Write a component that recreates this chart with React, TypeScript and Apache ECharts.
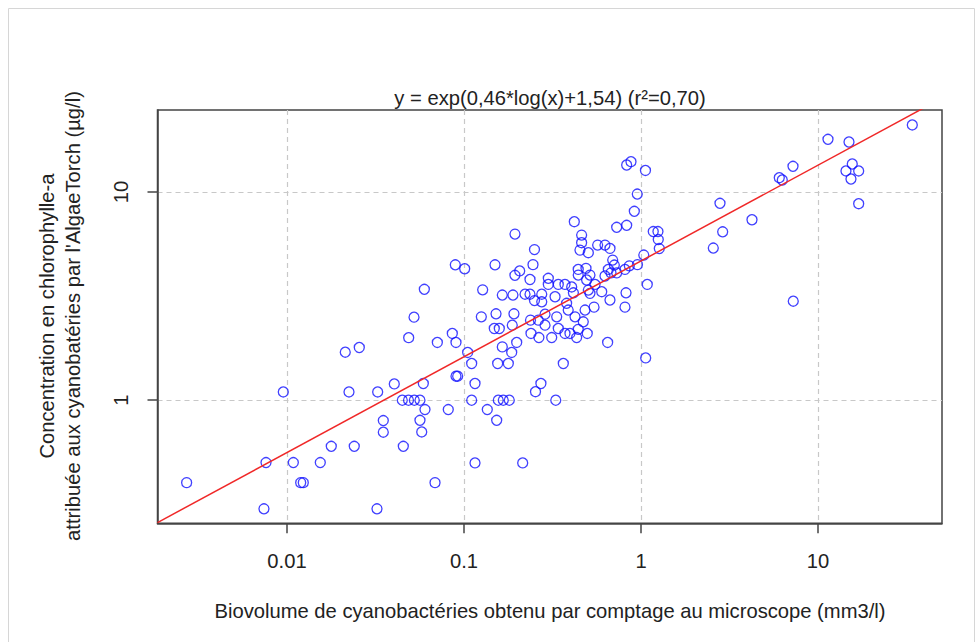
import React, { useEffect, useRef } from "react";
import * as echarts from "echarts";

// Biovolume (mm3/l)
const biovolume: number[] = [
  0.00271, 0.00741, 0.00761, 0.00953, 0.01086, 0.01195, 0.01236, 0.01542, 0.01779, 0.02134,
  0.0224, 0.02399, 0.02561, 0.03224, 0.03253, 0.035, 0.035, 0.04038, 0.04481, 0.04858,
  0.04541, 0.0487, 0.0522, 0.0524, 0.0564, 0.0597, 0.0893, 0.1009, 0.1497, 0.1941,
  0.2064, 0.194, 0.1275, 0.1646, 0.1891, 0.2212, 0.236, 0.1253, 0.1517, 0.1916,
  0.0859, 0.0901, 0.0707, 0.1483, 0.1583, 0.1874, 0.2375, 0.1646, 0.1985, 0.186,
  0.1049, 0.1105, 0.155, 0.178, 0.0901, 0.0921, 0.0589, 0.1154, 0.2535, 0.1105,
  0.1562, 0.1667, 0.1803, 0.0602, 0.0815, 0.1354, 0.0564, 0.153, 0.0577, 0.1154,
  0.2146, 0.0686, 0.2391, 0.236, 0.2454, 0.2502, 0.2502, 0.83, 0.878, 1.06,
  0.953, 0.917, 0.42, 0.729, 0.83, 1.173, 1.247, 1.252, 1.269, 0.462,
  0.462, 0.452, 0.569, 0.626, 0.668, 0.504, 0.692, 0.707, 1.037, 0.955,
  0.859, 0.442, 0.489, 0.442, 0.515, 0.654, 0.677, 0.626, 0.729, 0.812,
  0.2995, 0.2995, 0.493, 0.55, 0.341, 0.372, 0.406, 1.085, 0.275, 0.275,
  0.327, 0.415, 0.504, 0.6, 0.515, 0.823, 0.668, 0.812, 0.543, 0.38,
  0.388, 0.483, 0.287, 0.334, 0.424, 0.263, 0.287, 0.472, 0.442, 0.341,
  0.265, 0.313, 0.372, 0.397, 0.433, 0.497, 0.648, 1.063, 0.364, 0.272,
  0.33, 2.795, 2.894, 2.562, 4.238, 6.045, 6.285, 7.225, 7.25, 11.39,
  14.97, 15.62, 14.39, 16.98, 15.36, 16.98, 34.11,
];

// Chlorophyll-a (µg/l)
const chlorophyll: number[] = [
  0.402, 0.301, 0.502, 1.096, 0.502, 0.402, 0.402, 0.502, 0.601, 1.701,
  1.096, 0.601, 1.792, 0.301, 1.096, 0.799, 0.702, 1.198, 1.0, 1.0,
  0.601, 1.998, 2.506, 1.0, 1.0, 3.41, 4.47, 4.28, 4.47, 6.28,
  4.18, 3.98, 3.39, 3.2, 3.2, 3.23, 3.23, 2.515, 2.6, 2.6,
  2.093, 1.894, 1.894, 2.211, 2.211, 2.294, 2.425, 1.804, 1.894, 1.696,
  1.696, 1.501, 1.501, 1.501, 1.304, 1.304, 1.203, 1.203, 1.099, 1.0,
  1.0, 1.0, 1.0, 0.902, 0.902, 0.902, 0.801, 0.801, 0.704, 0.5,
  0.5, 0.402, 2.093, 3.8, 4.48, 5.29, 3.01, 13.48, 13.99, 12.69,
  9.78, 8.08, 7.2, 6.77, 6.92, 6.46, 6.46, 5.91, 5.35, 6.21,
  5.71, 5.26, 5.56, 5.56, 5.36, 5.11, 4.71, 4.46, 4.98, 4.48,
  4.42, 4.25, 4.3, 3.99, 3.99, 4.25, 4.09, 3.95, 4.09, 4.25,
  3.85, 3.6, 3.78, 3.6, 3.6, 3.6, 3.5, 3.6, 3.23, 2.97,
  3.14, 3.28, 3.38, 3.32, 3.26, 3.28, 3.03, 2.8, 2.8, 2.92,
  2.71, 2.71, 2.59, 2.515, 2.515, 2.425, 2.294, 2.38, 2.19, 2.211,
  2.0, 2.0, 2.093, 2.093, 2.0, 2.093, 1.894, 1.597, 1.501, 1.203,
  1.0, 8.83, 6.44, 5.38, 7.36, 11.72, 11.42, 13.29, 2.99, 17.92,
  17.39, 13.63, 12.62, 12.62, 11.55, 8.79, 21.0,
];

const xTickValues: number[] = [0.01, 0.1, 1, 10];
const yTickValues: number[] = [1, 10];
const xExtent: number[] = [0.001855, 50.2];
const yExtent: number[] = [0.2564, 24.77];

// regression: y = exp(0.46*log(x) + 1.54)
const fitSlope = 0.46;
const fitIntercept = 1.54;

const titleText = "y = exp(0,46*log(x)+1,54) (r²=0,70)";
const xTitle = "Biovolume de cyanobactéries obtenu par comptage au microscope (mm3/l)";
const yTitle1 = "Concentration en chlorophylle-a";
const yTitle2 = "attribuée aux cyanobatéries par l'AlgaeTorch (µg/l)";

const FONT = '"Liberation Sans", Arial, Helvetica, sans-serif';
const FS = 20.2;

const fmt = (v: number) => String(Number(Number(v).toPrecision(4)));

export default function App() {
  const ref = useRef<HTMLDivElement>(null);
  useEffect(() => {
    if (!ref.current) return;
    const chart = echarts.init(ref.current, null, { renderer: "svg" });
    const points = biovolume.map((x, i) => [x, chlorophyll[i]]);
    const fitLine = xExtent.map((x) => [x, Math.exp(fitSlope * Math.log(x) + fitIntercept)]);
    const axisColor = "#444";
    const gridLine = { show: true, lineStyle: { color: "#c8c8c8", width: 1.2, type: [5, 4] as any } };
    chart.setOption({
      animation: false,
      backgroundColor: "#ffffff",
      grid: {
        left: 157.5,
        right: 37,
        top: 110,
        bottom: 118.7,
        show: true,
        borderColor: axisColor,
        borderWidth: 1.5,
        backgroundColor: "transparent",
        containLabel: false,
      },
      xAxis: {
        type: "log",
        logBase: 10,
        min: xExtent[0],
        max: xExtent[1],
        axisLine: { show: true, onZero: false, lineStyle: { color: axisColor, width: 1.5 } },
        axisTick: { show: true, inside: false, length: 10, customValues: xTickValues, lineStyle: { color: axisColor, width: 1.5 } },
        axisLabel: {
          customValues: xTickValues,
          margin: 28,
          color: "#222",
          fontFamily: FONT,
          fontSize: FS,
          formatter: (v: number) => fmt(v),
        },
        splitLine: gridLine,
        minorTick: { show: false },
      },
      yAxis: {
        type: "log",
        logBase: 10,
        min: yExtent[0],
        max: yExtent[1],
        axisLine: { show: true, onZero: false, lineStyle: { color: axisColor, width: 1.5 } },
        axisTick: { show: true, inside: false, length: 10, customValues: yTickValues, lineStyle: { color: axisColor, width: 1.5 } },
        axisLabel: {
          customValues: yTickValues,
          rotate: 90,
          margin: 27,
          color: "#222",
          fontFamily: FONT,
          fontSize: FS,
          formatter: (v: number) => fmt(v),
        },
        splitLine: gridLine,
      },
      series: [
        {
          type: "scatter",
          data: points,
          symbol: "circle",
          symbolSize: 10,
          itemStyle: { color: "rgba(0,0,0,0)", borderColor: "#1010ff", borderWidth: 1.3 },
          z: 2,
        },
        {
          type: "line",
          data: fitLine,
          symbol: "none",
          clip: true,
          lineStyle: { color: "#f02828", width: 1.5 },
          z: 3,
        },
      ],
      graphic: [
        {
          type: "rect",
          shape: { x: 8.5, y: 8.5, width: 966, height: 640 },
          style: { fill: "none", stroke: "#d6d6d6", lineWidth: 1 },
          silent: true,
        },
        {
          type: "text",
          x: 550,
          y: 98,
          style: { text: titleText, fill: "#222", font: `${FS}px ${FONT}`, textAlign: "center", textVerticalAlign: "middle" },
        },
        {
          type: "text",
          x: 550,
          y: 611,
          style: { text: xTitle, fill: "#222", font: `${FS}px ${FONT}`, textAlign: "center", textVerticalAlign: "middle" },
        },
        {
          type: "text",
          x: 47,
          y: 316,
          rotation: Math.PI / 2,
          style: { text: yTitle1, fill: "#222", font: `${FS}px ${FONT}`, textAlign: "center", textVerticalAlign: "middle" },
        },
        {
          type: "text",
          x: 73,
          y: 316,
          rotation: Math.PI / 2,
          style: { text: yTitle2, fill: "#222", font: `${FS}px ${FONT}`, textAlign: "center", textVerticalAlign: "middle" },
        },
      ],
    });
    return () => chart.dispose();
  }, []);
  return <div ref={ref} style={{ position: "fixed", left: 0, top: 0, width: 979, height: 642 }} />;
}
